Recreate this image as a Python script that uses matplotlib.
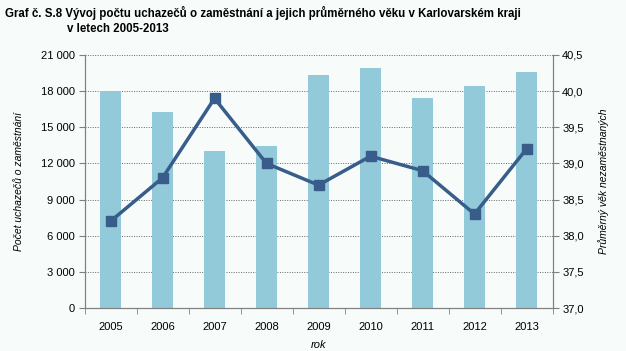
import numpy as np
import matplotlib
matplotlib.use('Agg')
import matplotlib.pyplot as plt
from matplotlib.ticker import FuncFormatter

#data
roky = ['2005', '2006', '2007', '2008', '2009', '2010', '2011', '2012', '2013']
uchazeci = [18030, 16250, 13000, 13420, 19330, 19920, 17420, 18420, 19580]
vek = [38.2, 38.8, 39.9, 39.0, 38.7, 39.1, 38.9, 38.3, 39.2]

plt.rcParams['font.family'] = ['Liberation Sans', 'DejaVu Sans']

bg = '#f7fbfa'
fig = plt.figure(figsize=(6.26, 3.51), dpi=100, facecolor=bg)
ax1 = fig.add_axes([84.5/626, 1 - 308/351, 468/626, 253/351])
ax1.set_facecolor(bg)

x = np.arange(len(roky))
ax1.bar(x, uchazeci, width=0.4, color='#92cad9', zorder=2)
ax1.set_xlim(-0.5, len(roky) - 0.5)
ax1.set_ylim(0, 21000)
ax1.set_yticks(np.arange(0, 21001, 3000))
ax1.yaxis.set_major_formatter(FuncFormatter(lambda v, p: '{:,.0f}'.format(v).replace(',', ' ')))
ax1.grid(axis='y', linestyle=(0, (1, 1.5)), color='#666666', linewidth=0.7, zorder=1)

ax1.set_xticks(x)
ax1.set_xticklabels(roky)
ax1.set_xticks(np.arange(-0.5, len(roky)), minor=True)
ax1.tick_params(axis='x', which='major', length=0, pad=10, labelsize=8)
ax1.tick_params(axis='x', which='minor', length=4, color='#808080')
ax1.tick_params(axis='y', length=4, color='#808080', labelsize=8, pad=3)

ax2 = ax1.twinx()
ax2.plot(x, vek, color='#385d8a', linewidth=2.5, marker='s', markersize=7, zorder=3)
ax2.set_ylim(37.0, 40.5)
ax2.set_yticks(np.arange(37.0, 40.51, 0.5))
ax2.yaxis.set_major_formatter(FuncFormatter(lambda v, p: '{:.1f}'.format(v).replace('.', ',')))
ax2.tick_params(axis='y', length=4, color='#808080', labelsize=8, pad=3)

for a in (ax1, ax2):
    a.spines['top'].set_visible(False)
    for s in ('left', 'right', 'bottom'):
        a.spines[s].set_color('#808080')

ax1.set_ylabel('Počet uchazečů o zaměstnání', fontsize=7.5, style='italic', labelpad=12)
ax2.set_ylabel('Průměrný věk nezaměstnaných', fontsize=7.5, style='italic', labelpad=10)
ax1.set_xlabel('rok', fontsize=8, style='italic', labelpad=6)

fig.text(5/626, 1 - 13/351, 'Graf č. S.8 Vývoj počtu uchazečů o zaměstnání a jejich průměrného věku v Karlovarském kraji',
         fontsize=8.3, fontweight='bold', va='center', ha='left')
fig.text(67/626, 1 - 29/351, 'v letech 2005-2013', fontsize=8.3, fontweight='bold', va='center', ha='left')

fig.savefig('out.png', dpi=100, facecolor=bg)
